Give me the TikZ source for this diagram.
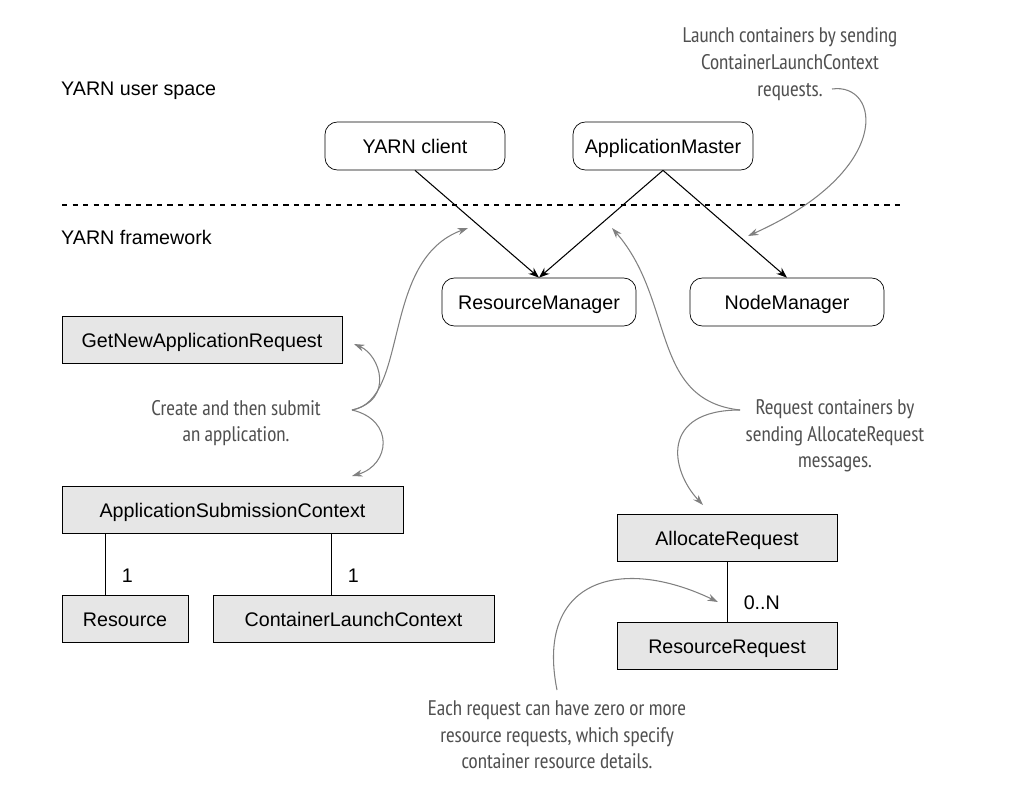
\documentclass[tikz,border=0pt]{standalone}
\usepackage{fontspec}
\setmainfont{Liberation Sans}
\newfontfamily\notefont{PT Sans Narrow}
\usetikzlibrary{positioning,arrows.meta}
\definecolor{boxgray}{RGB}{230,230,230}
\definecolor{notegray}{RGB}{80,80,80}
\tikzset{
  rbox/.style={draw, rounded corners=7pt, minimum height=0.96cm, text height=8pt, text depth=0pt, font=\fontsize{11.2}{13}\selectfont},
  gbox/.style={draw, fill=boxgray, minimum height=0.94cm, text height=8pt, text depth=0pt, font=\fontsize{11.2}{13}\selectfont},
  call/.style={-{Stealth[length=6pt,width=4.5pt]}, semithick},
  note/.style={align=center, text=notegray, font=\notefont\fontsize{12}{15.2}\selectfont},
  hint/.style={-{Stealth[length=6pt,width=4pt]}, draw=gray, line width=0.6pt},
  mult/.style={right=6pt, pos=0.68, font=\fontsize{11.2}{13}\selectfont},
}
\begin{document}
\begin{tikzpicture}[x=0.02cm,y=-0.02cm]
\useasboundingbox (0,0) rectangle (1022,792);
% layers
\node[anchor=west, font=\fontsize{11.2}{13}\selectfont] (userspace) at (55,91) {YARN user space};
\node[anchor=west, font=\fontsize{11.2}{13}\selectfont] (framework) at (55,237) {YARN framework};
\coordinate (sepl) at (62,205);
\coordinate (sepr) at (902,205);
\draw[dashed, semithick] (sepl) -- (sepr);

% services
\node[rbox, minimum width=3.6cm] (client) at (415,146) {YARN client};
\node[rbox, minimum width=3.6cm] (am) at (663,146) {ApplicationMaster};
\node[rbox, minimum width=3.88cm] (rm) at (539,302) {ResourceManager};
\node[rbox, minimum width=3.88cm] (nm) at (787,302) {NodeManager};
\draw[call] (client.south) -- (rm.north);
\draw[call] (am.south) -- (rm.north);
\draw[call] (am.south) -- (nm.north);

% records
\node[gbox, minimum width=5.6cm] (getnew) at (202,340) {GetNewApplicationRequest};
\node[gbox, minimum width=6.82cm] (asc) at (232.5,510) {ApplicationSubmissionContext};
\node[gbox, minimum width=2.52cm] (res) at (125,619) {Resource};
\node[gbox, minimum width=5.62cm] (clc) at (353.5,619) {ContainerLaunchContext};
\node[gbox, minimum width=4.4cm] (alloc) at (727,538) {AllocateRequest};
\node[gbox, minimum width=4.4cm] (rreq) at (727,646) {ResourceRequest};
\draw (asc.south -| 105,0) -- node[mult] {1} (res.north -| 105,0);
\draw (asc.south -| 331,0) -- node[mult] {1} (clc.north -| 331,0);
\draw (alloc) -- node[mult] {0..N} (rreq);

% notes
\node[note] (launchnote) at (790,64) {Launch containers by sending\\ContainerLaunchContext\\requests.};
\node[note] (submitnote) at (236,423) {Create and then submit\\an application.};
\node[note] (allocnote) at (835,436) {Request containers by\\sending AllocateRequest\\messages.};
\node[note] (detailnote) at (557,735) {Each request can have zero or more\\resource requests, which specify\\container resource details.};

\coordinate (launchout) at (832,89);
\coordinate (submitout) at (352,410);
\coordinate (allocout) at (740,410);
\coordinate (detailout) at (557,690);
\coordinate (launchin) at (748,236);
\coordinate (upleft) at (468,228);
\coordinate (upright) at (612,228);
\coordinate (getnewin) at (354,344);
\coordinate (ascin) at (352,476);
\coordinate (allocin) at (703,505);
\coordinate (rreqin) at (718,602);
\draw[hint] (launchout) .. controls (880,82) and (895,170) .. (launchin);
\draw[hint] (submitout) .. controls (395,400) and (380,355) .. (getnewin);
\draw[hint] (submitout) .. controls (395,420) and (390,465) .. (ascin);
\draw[hint] (submitout) .. controls (410,400) and (380,260) .. (upleft);
\draw[hint] (allocout) .. controls (650,400) and (675,300) .. (upright);
\draw[hint] (allocout) .. controls (660,410) and (670,470) .. (allocin);
\draw[hint] (detailout) .. controls (535,580) and (620,555) .. (rreqin);
\end{tikzpicture}
\end{document}
